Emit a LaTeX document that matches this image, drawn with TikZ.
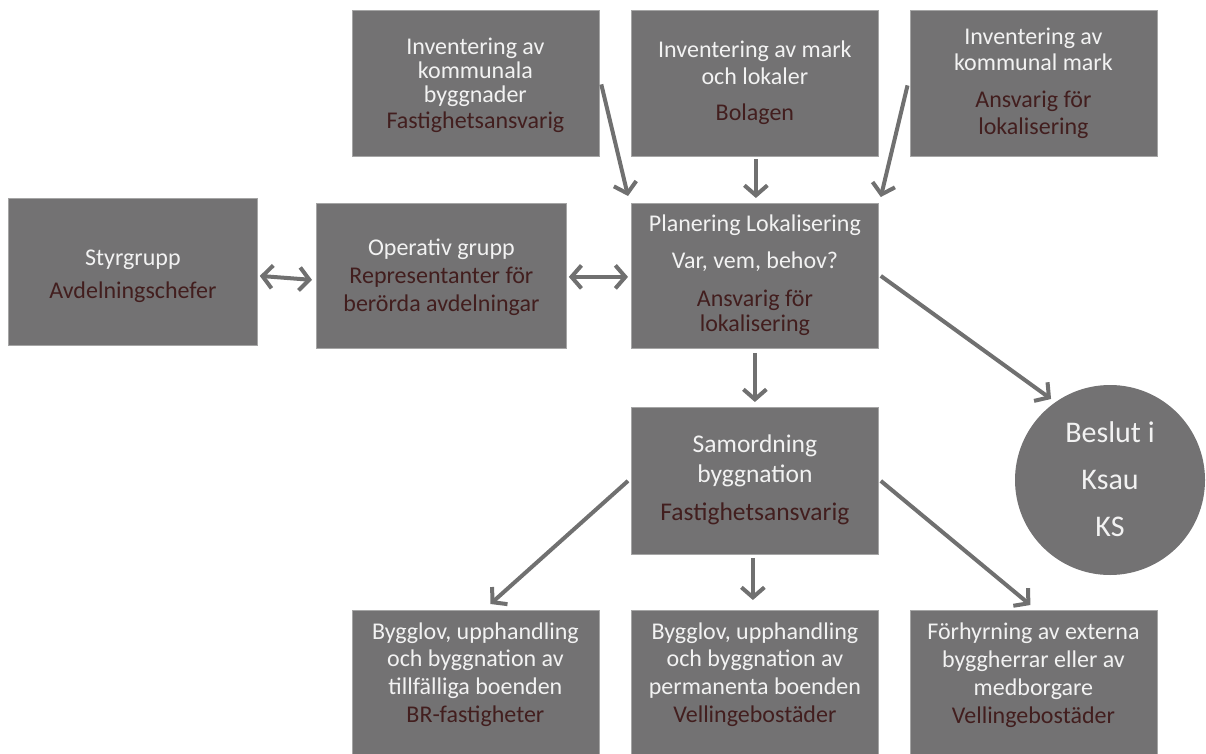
\documentclass[tikz,border=0pt]{standalone}
\usepackage{fontspec}
\setmainfont{Carlito}
\usetikzlibrary{arrows.meta}
\definecolor{boxgray}{RGB}{115,114,115}
\definecolor{edgegray}{RGB}{165,165,165}
\definecolor{arrgray}{RGB}{112,112,112}
\definecolor{lighttxt}{RGB}{242,242,242}
\definecolor{darktxt}{RGB}{66,30,30}
\newcommand\dk{\color{darktxt}}
\newcommand\fa{\fontsize{24}{27}\selectfont}
\newcommand\topstrut{\rule{0pt}{20pt}}
\tikzset{
  box/.style={draw=edgegray, line width=0.8pt, fill=boxgray, anchor=north west, inner sep=0pt},
  txt/.style={anchor=north, inner sep=0pt, align=center, text=lighttxt, font=\fa},
  arr/.style={draw=arrgray, line width=4pt, -{Straight Barb[length=10pt,width=23pt]}},
  darr/.style={draw=arrgray, line width=4pt, {Straight Barb[length=10pt,width=23pt]}-{Straight Barb[length=10pt,width=23pt]}}
}
\begin{document}
\begin{tikzpicture}[x=1pt,y=-1pt]
\useasboundingbox (0,0) rectangle (1206,754);
% boxes
\node[box, minimum width=247pt, minimum height=146pt] (A) at (351.5,10) {};
\node[box, minimum width=247pt, minimum height=146pt] (B) at (631,10) {};
\node[box, minimum width=247pt, minimum height=146pt] (C) at (909.5,10) {};
\node[box, minimum width=249pt, minimum height=147pt] (S) at (8,198) {};
\node[box, minimum width=250pt, minimum height=145pt] (O) at (316,203) {};
\node[box, minimum width=247pt, minimum height=145pt] (P) at (631,203) {};
\node[box, minimum width=247pt, minimum height=147pt] (M) at (631,407) {};
\node[box, minimum width=247pt, minimum height=146pt] (B1) at (351.5,610) {};
\node[box, minimum width=247pt, minimum height=146pt] (B2) at (631,610) {};
\node[box, minimum width=247pt, minimum height=146pt] (F) at (909.5,610) {};
\node[circle, fill=boxgray, inner sep=0pt, minimum size=190pt] (K) at (1110,480) {};
% texts
\node[txt, font=\fontsize{24}{24}\selectfont] (tA) at (A.north |- 0,34) {\topstrut Inventering av\\kommunala\\byggnader\\[2pt]{\dk Fastighetsansvarig}};
\node[txt] (tB) at (B.north |- 0,37) {\topstrut Inventering av mark\\och lokaler\\[9pt]{\dk Bolagen}};
\node[txt, font=\fontsize{24}{26}\selectfont] (tC) at (C.north |- 0,24) {\topstrut Inventering av\\kommunal mark\\[11pt]{\dk Ansvarig för}\\[1pt]{\dk lokalisering}};
\node[txt] (tS) at (S.north |- 0,245) {\topstrut Styrgrupp\\[6pt]{\dk Avdelningschefer}};
\node[txt] (tO) at (O.north |- 0,235) {\topstrut Operativ grupp\\[1pt]{\dk Representanter för}\\[1pt]{\dk berörda avdelningar}};
\node[txt, font=\fontsize{24}{25}\selectfont] (tP) at (P.north |- 0,211) {\topstrut Planering Lokalisering\\[12pt]Var, vem, behov?\\[13pt]{\dk Ansvarig för}\\{\dk lokalisering}};
\node[txt, font=\fontsize{25.5}{30}\selectfont] (tM) at (M.north |- 0,432) {\topstrut Samordning\\byggnation\\[8pt]{\dk Fastighetsansvarig}};
\node[txt, font=\fontsize{24}{27.7}\selectfont] (tB1) at (B1.north |- 0,619) {\topstrut Bygglov, upphandling\\och byggnation av\\tillfälliga boenden\\{\dk BR-fastigheter}};
\node[txt, font=\fontsize{24}{27.7}\selectfont] (tB2) at (B2.north |- 0,619) {\topstrut Bygglov, upphandling\\och byggnation av\\permanenta boenden\\{\dk Vellingebostäder}};
\node[txt, font=\fontsize{24}{28}\selectfont] (tF) at (F.north |- 0,619) {\topstrut Förhyrning av externa\\byggherrar eller av\\medborgare\\{\dk Vellingebostäder}};
\node[txt, font=\fontsize{30}{47}\selectfont] (tK) at (K.north |- 0,421) {\topstrut Beslut i\\Ksau\\KS};
% arrows
\draw[arr] ([shift={(2,1)}]A.east) -- ([shift={(-3,-7)}]P.north west);
\draw[arr] ([shift={(1,2)}]B.south) -- ([shift={(1,-5)}]P.north);
\draw[arr] ([shift={(-2,2)}]C.west) -- ([shift={(2,-6)}]P.north east);
\draw[darr] ([shift={(2,4)}]S.east) -- ([shift={(-4,4)}]O.west);
\draw[darr] ([shift={(2,1)}]O.east) -- ([shift={(-3,1)}]P.west);
\draw[arr] ([shift={(2,0)}]P.east) -- ([shift={(-3,-4)}]K.126);
\draw[arr] ([shift={(0,4)}]P.south) -- ([shift={(0,-5)}]M.north);
\draw[arr] ([shift={(-3,0)}]M.west) -- ([shift={(15,-6)}]B1.north);
\draw[arr] ([shift={(-2,3)}]M.south) -- ([shift={(-2,-10)}]B2.north);
\draw[arr] ([shift={(2,0)}]M.east) -- ([shift={(-3,-5)}]F.north);
\end{tikzpicture}
\end{document}
